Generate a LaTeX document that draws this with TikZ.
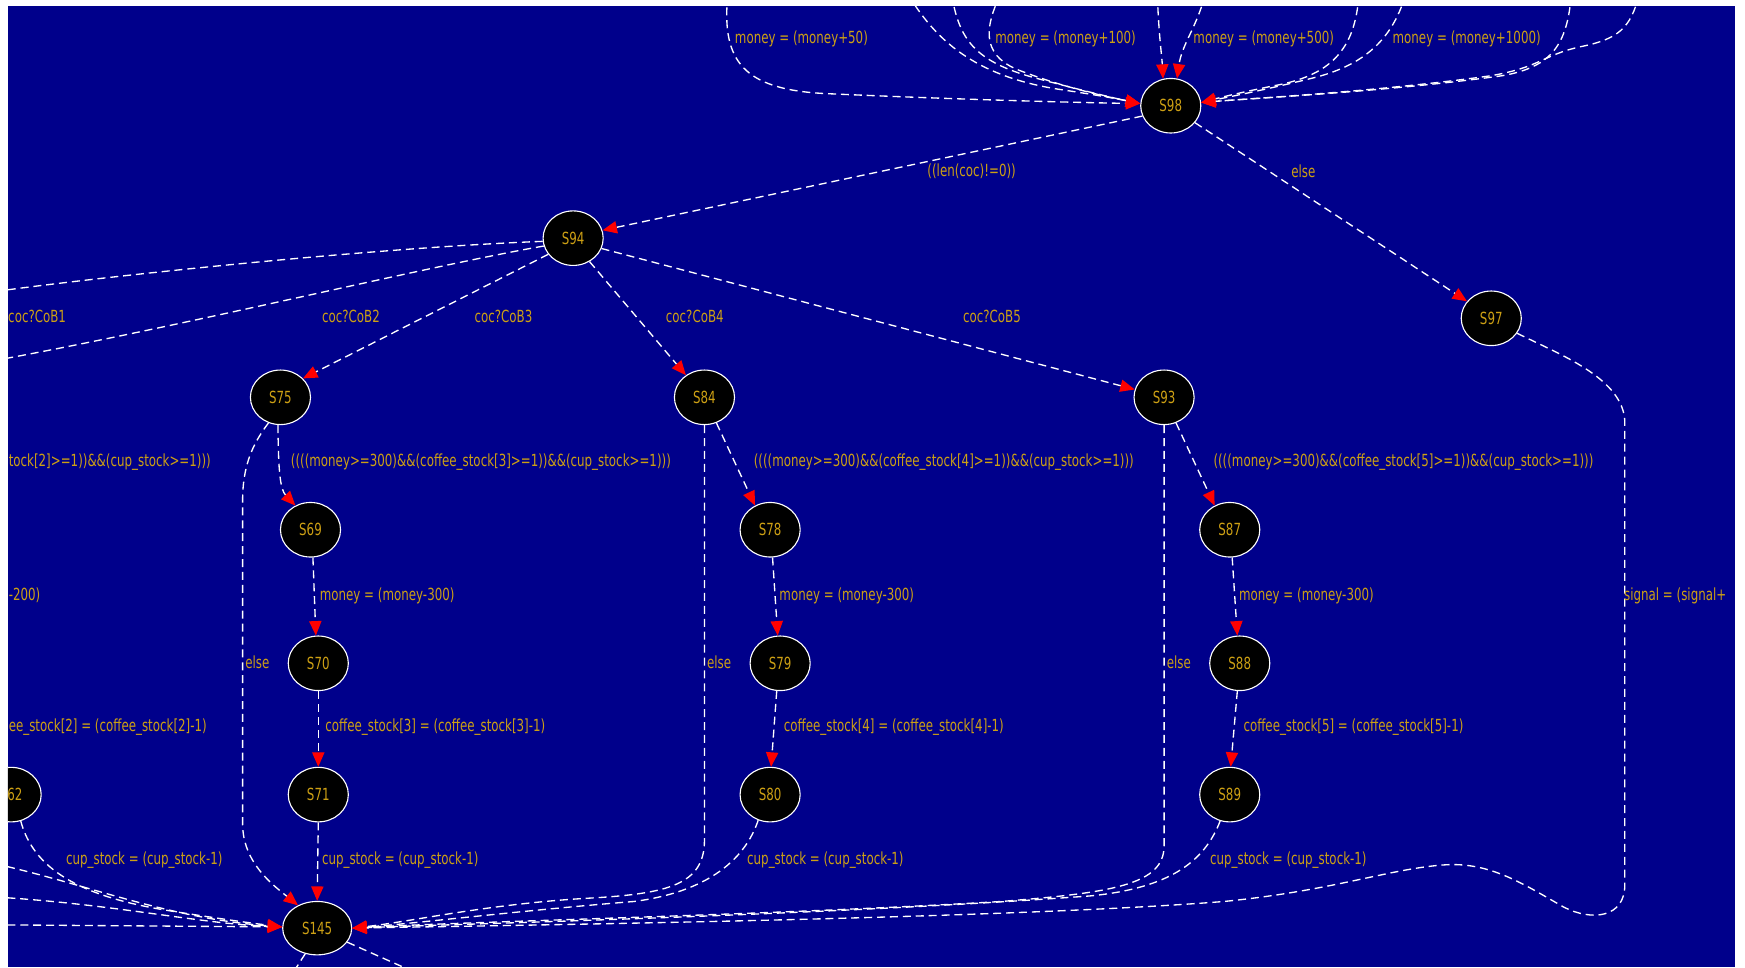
\documentclass[tikz,border=0pt]{standalone}
\usepackage{fontspec}
\newfontfamily\lblfont[FakeStretch=0.71]{DejaVu Sans}
\usetikzlibrary{arrows.meta,shapes.geometric}
\definecolor{bgblue}{RGB}{0,0,139}
\definecolor{lblgold}{RGB}{205,160,20}
\begin{document}
\begin{tikzpicture}[x=0.5pt,y=-0.5pt,
  state/.style={ellipse,draw=white,line width=0.5pt,fill=black,minimum width=27pt,minimum height=24.5pt,inner sep=0pt,text=lblgold,font=\lblfont\fontsize{7.5pt}{9pt}\selectfont},
  bigstate/.style={state,minimum width=31pt,minimum height=24pt},
  trans/.style={draw=white,dash pattern=on 3.6pt off 2.2pt,line width=0.6pt,-{Triangle[length=6.5pt,width=5.5pt,color=red]}},
  plainline/.style={draw=white,dash pattern=on 3.6pt off 2.2pt,line width=0.6pt},
  lbl/.style={anchor=west,inner sep=0pt,text=lblgold,font=\lblfont\fontsize{7.5pt}{9pt}\selectfont}
]
\useasboundingbox (0,0) rectangle (1568,869);
\fill[white] (0,0) rectangle (1568,869);
\fill[bgblue] (7,5) rectangle (1559,869);
\begin{scope}
\clip (7,5) rectangle (1559,869);
% nodes
\node[state] (S98) at (1052,95) {S98};
\node[state] (S94) at (515,214) {S94};
\node[state] (S97) at (1340,286) {S97};
\node[state] (S75) at (252,357) {S75};
\node[state] (S84) at (633,357) {S84};
\node[state] (S93) at (1046,357) {S93};
\node[state] (S69) at (279,476) {S69};
\node[state] (S78) at (692,476) {S78};
\node[state] (S87) at (1105,476) {S87};
\node[state] (S70) at (286,596) {S70};
\node[state] (S79) at (701,596) {S79};
\node[state] (S88) at (1114,596) {S88};
\node[state] (S71) at (286,714) {S71};
\node[state] (S80) at (692,714) {S80};
\node[state] (S89) at (1105,714) {S89};
\node[state] (S62) at (10,714) {S62};
\node[bigstate] (S145) at (285,834) {S145};
% free ends
\coordinate (t1) at (654,-5);
\coordinate (t2) at (816,-5);
\coordinate (t3) at (855,-5);
\coordinate (t4) at (899,-5);
\coordinate (t5) at (1040,-5);
\coordinate (t6) at (1083,-5);
\coordinate (t7) at (1221,-5);
\coordinate (t8) at (1263,-5);
\coordinate (t9) at (1412,-5);
\coordinate (t10) at (1473,-5);
\coordinate (w1) at (-5,262);
\coordinate (w2) at (-5,324);
\coordinate (lf1) at (-5,776);
\coordinate (lf2) at (-5,806);
\coordinate (lf3) at (-5,831);
\coordinate (b1) at (262,876);
\coordinate (b2) at (378,876);
% edges into S98
\draw[trans] (t1) .. controls (648,55) and (668,80) .. (740,84) .. controls (850,89) and (960,92) .. (S98.176);
\draw[trans] (t2) .. controls (840,35) and (875,68) .. (950,80) .. controls (990,86) and (1010,90) .. (S98.176);
\draw[trans] (t3) .. controls (862,35) and (875,55) .. (930,70) .. controls (975,82) and (1005,89) .. (S98.176);
\draw[trans] (t4) .. controls (882,30) and (885,52) .. (918,64) .. controls (960,80) and (1000,88) .. (S98.176);
\draw[trans] (t5) .. controls (1041,30) and (1044,50) .. (S98.106);
\draw[trans] (t6) .. controls (1075,25) and (1062,40) .. (S98.77);
\draw[trans] (t7) .. controls (1218,45) and (1195,68) .. (1145,77) .. controls (1115,83) and (1095,88) .. (S98.6);
\draw[trans] (t8) .. controls (1250,40) and (1220,60) .. (1180,70) .. controls (1140,80) and (1100,88) .. (S98.6);
\draw[trans] (t9) .. controls (1408,40) and (1395,60) .. (1350,68) .. controls (1250,82) and (1130,88) .. (S98.6);
\draw[trans] (t10) .. controls (1465,25) and (1455,35) .. (1420,42) .. controls (1385,50) and (1385,60) .. (1340,68) .. controls (1240,82) and (1130,88) .. (S98.6);
% S98 out
\draw[trans] (S98.200) -- (S94.15);
\draw[trans] (S98.325) -- (S97.145);
% S94 out
\draw[plainline] (S94.186) .. controls (350,222) and (120,245) .. (w1);
\draw[plainline] (S94.195) .. controls (380,240) and (170,292) .. (w2);
\draw[trans] (S94.213) -- (S75.40);
\draw[trans] (S94.305) -- (S84.130);
\draw[trans] (S94.340) -- (S93.165);
% column S75
\draw[trans] (S75.265) .. controls (250,425) and (252,440) .. (S69.122);
\draw[trans] (S75.245) .. controls (226,400) and (218,420) .. (218,450) -- (218,740) .. controls (218,775) and (245,795) .. (S145.130);
\draw[trans] (S69.275) -- (S70.95);
\draw[trans] (S70.south) -- (S71.north);
\draw[trans] (S71.south) -- (S145.north);
% column S84
\draw[trans] (S84.295) -- (S78.122);
\draw[trans] (S84.south) -- (633,755) .. controls (633,795) and (600,803) .. (530,807) .. controls (440,812) and (370,828) .. (S145.east);
\draw[trans] (S78.275) -- (S79.95);
\draw[trans] (S79.263) -- (S80.88);
\draw[trans] (S80.245) .. controls (672,765) and (645,800) .. (570,810) .. controls (470,818) and (370,830) .. (S145.east);
% column S93
\draw[trans] (S93.295) -- (S87.122);
\draw[trans] (S93.south) -- (1046,760) .. controls (1046,795) and (1000,802) .. (900,810) .. controls (700,822) and (420,828) .. (S145.east);
\draw[trans] (S87.275) -- (S88.95);
\draw[trans] (S88.265) -- (S89.88);
\draw[trans] (S89.250) .. controls (1082,775) and (1050,798) .. (980,805) .. controls (750,822) and (420,830) .. (S145.east);
% S97 to S145
\draw[trans] (S97.330) .. controls (1400,318) and (1460,340) .. (1460,380) -- (1460,795) .. controls (1460,825) and (1430,828) .. (1405,815) .. controls (1370,795) and (1340,775) .. (1300,777) .. controls (1250,780) and (1200,800) .. (1100,810) .. controls (900,826) and (420,832) .. (S145.east);
% left side into S145
\draw[trans] (S62.290) .. controls (30,780) and (70,805) .. (150,818) .. controls (200,826) and (230,830) .. (S145.178);
\draw[trans] (lf1) .. controls (80,795) and (150,825) .. (S145.178);
\draw[trans] (lf2) .. controls (100,812) and (180,830) .. (S145.178);
\draw[trans] (lf3) -- (S145.178);
% S145 out
\draw[plainline] (S145.245) -- (b1);
\draw[plainline] (S145.335) -- (b2);
% labels
\node[lbl] (L50) at (660,35) {money = (money+50)};
\node[lbl] (L100) at (894,35) {money = (money+100)};
\node[lbl] (L500) at (1072,35) {money = (money+500)};
\node[lbl] (L1000) at (1251,35) {money = (money+1000)};
\node[lbl] (Llen) at (833,154) {((len(coc)!=0))};
\node[lbl] (Lelse97) at (1160,154) {else};
\node[lbl] (Lc1) at (7,284) {coc?CoB1};
\node[lbl] (Lc2) at (289,284) {coc?CoB2};
\node[lbl] (Lc3) at (426,284) {coc?CoB3};
\node[lbl] (Lc4) at (598,284) {coc?CoB4};
\node[lbl] (Lc5) at (865,284) {coc?CoB5};
\node[lbl] (Lg2) at (7.5,415) {tock[2]>=1))\&\&(cup\_stock>=1)))};
\node[lbl] (Lg3) at (261,415) {((((money>=300)\&\&(coffee\_stock[3]>=1))\&\&(cup\_stock>=1)))};
\node[lbl] (Lg4) at (677,415) {((((money>=300)\&\&(coffee\_stock[4]>=1))\&\&(cup\_stock>=1)))};
\node[lbl] (Lg5) at (1090,415) {((((money>=300)\&\&(coffee\_stock[5]>=1))\&\&(cup\_stock>=1)))};
\node[lbl] (Lm2) at (7.5,535) {-200)};
\node[lbl] (Lm3) at (287,535) {money = (money-300)};
\node[lbl] (Lm4) at (700,535) {money = (money-300)};
\node[lbl] (Lm5) at (1113,535) {money = (money-300)};
\node[lbl] (Lsig) at (1459,535) {signal = (signal+};
\node[lbl] (Le3) at (220,595) {else};
\node[lbl] (Le4) at (635,595) {else};
\node[lbl] (Le5) at (1048,595) {else};
\node[lbl] (Lk2) at (7.5,653) {ee\_stock[2] = (coffee\_stock[2]-1)};
\node[lbl] (Lk3) at (292,653) {coffee\_stock[3] = (coffee\_stock[3]-1)};
\node[lbl] (Lk4) at (704,653) {coffee\_stock[4] = (coffee\_stock[4]-1)};
\node[lbl] (Lk5) at (1117,653) {coffee\_stock[5] = (coffee\_stock[5]-1)};
\node[lbl] (Lu2) at (59,773) {cup\_stock = (cup\_stock-1)};
\node[lbl] (Lu3) at (289,773) {cup\_stock = (cup\_stock-1)};
\node[lbl] (Lu4) at (671,773) {cup\_stock = (cup\_stock-1)};
\node[lbl] (Lu5) at (1087,773) {cup\_stock = (cup\_stock-1)};
\end{scope}
\end{tikzpicture}
\end{document}
